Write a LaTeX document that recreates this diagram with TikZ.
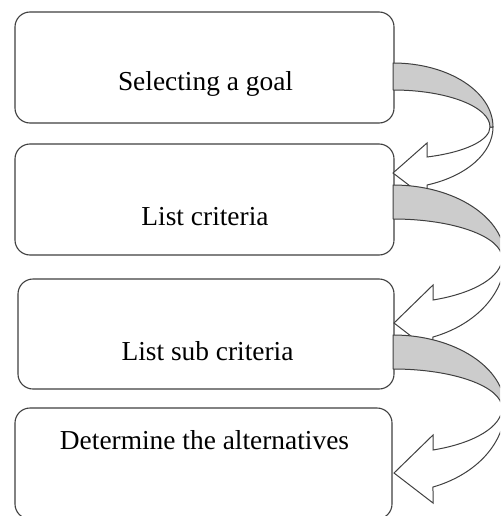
\documentclass[tikz,border=0pt]{standalone}
\usepackage{fontspec}
\setmainfont{Liberation Serif}
\definecolor{edge}{HTML}{404040}
\definecolor{band}{HTML}{CCCCCC}
\begin{document}
\begin{tikzpicture}[x=1pt,y=-1pt,
  stepbox/.style={draw=edge,line width=1.1pt,rounded corners=15pt,fill=white,inner sep=0pt,outer sep=0pt},
  label/.style={font=\fontsize{27.4}{33}\selectfont,anchor=base,inner sep=0pt},
  bandpart/.style={draw=edge,line width=1pt,fill=band,line join=round},
  headpart/.style={draw=edge,line width=1pt,fill=white,line join=miter}]
\useasboundingbox (0,0) rectangle (500,516);
\clip (0,0) rectangle (500,516);
\fill[white] (0,0) rectangle (500,516);
% boxes
\node[stepbox,minimum width=379pt,minimum height=111pt] (b1) at (204.5,67.5) {};
\node[stepbox,minimum width=379pt,minimum height=111pt] (b2) at (204.5,199.5) {};
\node[stepbox,minimum width=376pt,minimum height=110pt] (b3) at (206,334) {};
\node[stepbox,minimum width=377pt,minimum height=111pt] (b4) at (203.5,463.5) {};
% texts
\node[label] (t1) at (205.5,91) {Selecting a goal};
\node[label] (t2) at (205,225) {List criteria};
\node[label] (t3) at (207.5,360) {List sub criteria};
\node[label] (t4) at (204.5,449) {Determine the alternatives};
% arrow 1 (box 1 -> box 2)
\draw[headpart] (493,127) arc[start angle=0,end angle=-70.12,x radius=100pt,y radius=61.7pt]
  -- (427,199) -- (393,173) -- (427,143) -- (427,157)
  arc[start angle=-69.48,end angle=0,x radius=97pt,y radius=32pt] -- cycle;
\draw[bandpart] (393,63) arc[start angle=90,end angle=0,x radius=100pt,y radius=64pt]
  -- (490,127) arc[start angle=0,end angle=90,x radius=97pt,y radius=37pt] -- cycle;
% arrow 2 (box 2 -> box 3)
\begin{scope}[yshift=150pt]
\draw[headpart] (505,408) arc[start angle=0,end angle=-69.08,x radius=112pt,y radius=84.6pt]
  -- (433,503) -- (394,473) -- (433,435) -- (433,450)
  arc[start angle=-68.47,end angle=0,x radius=109pt,y radius=45.15pt] -- cycle;
\draw[bandpart] (393,335) arc[start angle=90,end angle=0,x radius=112pt,y radius=73pt]
  -- (502,408) arc[start angle=0,end angle=90,x radius=109pt,y radius=39pt] -- cycle;
\end{scope}
% arrow 3 (box 3 -> box 4)
\draw[headpart] (505,408) arc[start angle=0,end angle=-69.08,x radius=112pt,y radius=84.6pt]
  -- (433,503) -- (394,473) -- (433,435) -- (433,450)
  arc[start angle=-68.47,end angle=0,x radius=109pt,y radius=45.15pt] -- cycle;
\draw[bandpart] (393,335) arc[start angle=90,end angle=0,x radius=112pt,y radius=73pt]
  -- (502,408) arc[start angle=0,end angle=90,x radius=109pt,y radius=39pt] -- cycle;
\end{tikzpicture}
\end{document}
